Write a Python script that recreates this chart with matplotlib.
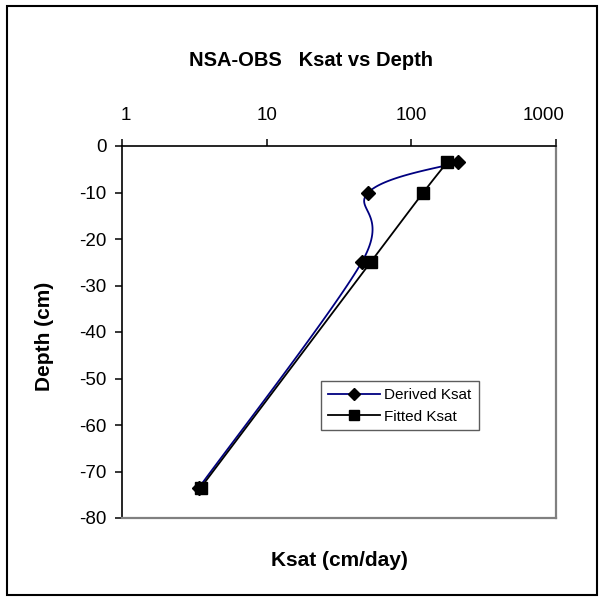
import numpy as np
import matplotlib
matplotlib.use("Agg")
import matplotlib.pyplot as plt
import matplotlib.transforms as mtransforms
from matplotlib.patches import Rectangle
from matplotlib.ticker import FixedLocator, FixedFormatter, NullLocator

plt.rcParams['font.family'] = ['Liberation Sans', 'DejaVu Sans']

# Saturated hydraulic conductivity profiles
derived_ksat = [211, 50.4, 45.4, 3.4]
derived_depth = [-3.5, -10, -25, -73.5]
fitted_ksat = [177, 121, 52.3, 3.5]
fitted_depth = [-3.5, -10, -25, -73.5]

x_ticks = [1, 10, 100, 1000]
x_tick_labels = ["1", "10", "100", "1000"]
y_ticks = [0, -10, -20, -30, -40, -50, -60, -70, -80]
y_tick_labels = ["0", "-10", "-20", "-30", "-40", "-50", "-60", "-70", "-80"]

W, H = 600, 597
fig = plt.figure(figsize=(W / 100, H / 100), dpi=100)
ax = fig.add_axes([122 / W, 1 - 518 / H, (556 - 122) / W, (518 - 146) / H])

ax.set_xscale('log')
ax.set_xlim(1, 1000)
ax.set_ylim(-80, 0)


def smooth_curve(ax, xs, ys, n=40):
    """Bezier smoothing (Catmull-Rom tangents) computed in display space."""
    pts = ax.transData.transform(np.column_stack([xs, ys]))
    m = len(pts)
    out = [pts[0]]
    for i in range(m - 1):
        p0 = pts[i - 1] if i > 0 else pts[i]
        p1 = pts[i]
        p2 = pts[i + 1]
        p3 = pts[i + 2] if i + 2 < m else pts[i + 1]
        c1 = p1 + (p2 - p0) / 6.0
        c2 = p2 - (p3 - p1) / 6.0
        t = np.linspace(0, 1, n)[1:, None]
        seg = ((1 - t) ** 3) * p1 + 3 * ((1 - t) ** 2) * t * c1 \
            + 3 * (1 - t) * t ** 2 * c2 + t ** 3 * p2
        out.extend(seg)
    out = np.array(out)
    data = ax.transData.inverted().transform(out)
    return data[:, 0], data[:, 1]


navy = '#000080'
dx, dy = smooth_curve(ax, derived_ksat, derived_depth)
ax.plot(dx, dy, color=navy, lw=1.3, zorder=3)
ax.plot(derived_ksat, derived_depth, ls='none', marker='D', ms=7.5,
        color='black', zorder=4)

fx, fy = smooth_curve(ax, fitted_ksat, fitted_depth)
ax.plot(fx, fy, color='black', lw=1.3, zorder=5)
ax.plot(fitted_ksat, fitted_depth, ls='none', marker='s', ms=8,
        color='black', zorder=6)

# legend handles
ax.plot([], [], color=navy, lw=1.3, marker='D', ms=6.5, mfc='black',
        mec='black', label='Derived Ksat')
ax.plot([], [], color='black', lw=1.3, marker='s', ms=6.5,
        label='Fitted Ksat')

# axes styling: x axis on top, gray frame on right/bottom
ax.xaxis.set_ticks_position('top')
ax.xaxis.set_major_locator(FixedLocator(x_ticks))
ax.xaxis.set_major_formatter(FixedFormatter(x_tick_labels))
ax.xaxis.set_minor_locator(NullLocator())
ax.yaxis.set_major_locator(FixedLocator(y_ticks))
ax.yaxis.set_major_formatter(FixedFormatter(y_tick_labels))
ax.tick_params(axis='x', direction='out', length=5, width=1.1,
               labelsize=13.5, pad=11, colors='black')
ax.tick_params(axis='y', direction='out', length=5, width=1.1,
               labelsize=13.5, pad=6, colors='black')
ax.spines['top'].set_color('black')
ax.spines['left'].set_color('black')
ax.spines['top'].set_linewidth(1.2)
ax.spines['left'].set_linewidth(1.2)
ax.spines['right'].set_color('#808080')
ax.spines['bottom'].set_color('#808080')
ax.spines['right'].set_linewidth(1.6)
ax.spines['bottom'].set_linewidth(1.6)

# nudge the end labels inward
fig.canvas.draw()
xlabels = ax.get_xticklabels()
shifts = {"1": 4, "1000": -12}
for lab in xlabels:
    s = shifts.get(lab.get_text(), 0)
    if s:
        lab.set_transform(lab.get_transform() + mtransforms.ScaledTranslation(
            s / 100, 0, fig.dpi_scale_trans))

fig.text(311 / W, 1 - 60 / H, 'NSA-OBS   Ksat vs Depth', ha='center',
         va='center', fontsize=14.5, fontweight='bold')
fig.text(339 / W, 1 - 560 / H, 'Ksat (cm/day)', ha='center', va='center',
         fontsize=15, fontweight='bold')
fig.text(45 / W, 1 - 336 / H, 'Depth (cm)', ha='center', va='center',
         rotation=90, fontsize=15, fontweight='bold')

leg = ax.legend(loc='upper left', bbox_to_anchor=(321 / W, 1 - 381 / H),
                bbox_transform=fig.transFigure, fontsize=11, frameon=True,
                fancybox=False, shadow=False, borderaxespad=0,
                handlelength=3.4, handletextpad=0.3, borderpad=0.45,
                labelspacing=0.5)
leg.get_frame().set_edgecolor('#333333')
leg.get_frame().set_linewidth(1.0)

# chart area border
fig.patches.append(Rectangle((7 / W, 1 - 595 / H), (597 - 7) / W,
                             (595 - 6) / H, transform=fig.transFigure,
                             fill=False, edgecolor='black', lw=1.5))

fig.savefig('out.png', dpi=100)
